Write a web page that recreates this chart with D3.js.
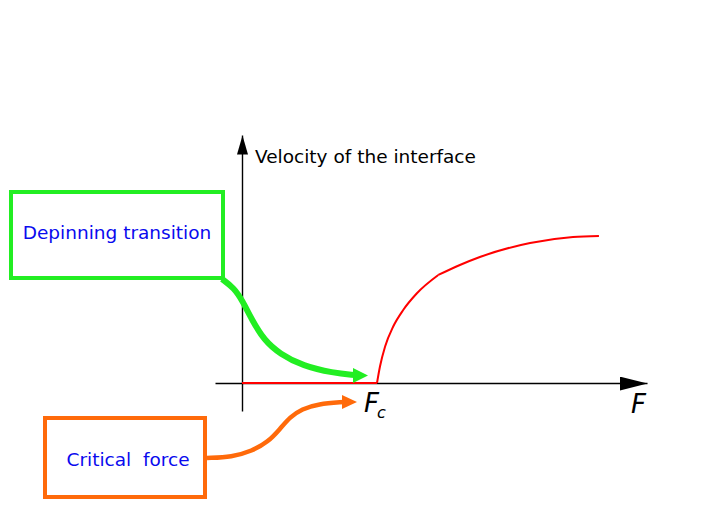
<!DOCTYPE html>
<html><head><meta charset="utf-8">
<script src="https://cdn.jsdelivr.net/npm/d3@7"></script>
<style>html,body{margin:0;padding:0;background:#fff}svg{display:block}</style>
</head><body>
<svg id="chart" width="708" height="532"></svg>
<script>
// ---- data ----
const pinnedF = [0, 5];            // F values where velocity is zero (below Fc)
const pinnedV = [0, 0];
const movingF = [5, 5.11, 5.30, 5.60, 5.97, 6.47, 7.27, 8.07, 8.81, 10.67, 12.26, 13.22];
const movingV = [0, 0.33, 0.73, 1.13, 1.46, 1.79, 2.16, 2.36, 2.52, 2.80, 2.92, 2.94];
const criticalForce = 5;
const xDomain = [-1, 15];
const yDomain = [-0.56, 4.96];
const yAxisLabel = "Velocity of the interface";
const xAxisLabel = "F";
const fcLabel = ["F", "c"];
const calloutLabels = ["Depinning transition", "Critical  force"];

const svg = d3.select("#chart");
const x = d3.scaleLinear().domain(xDomain).range([215, 647]);
const y = d3.scaleLinear().domain(yDomain).range([411, 135]);

// arrowhead markers
const defs = svg.append("defs");
defs.append("marker").attr("id","axArrowX").attr("viewBox","0 0 28 14")
  .attr("refX",28).attr("refY",7).attr("markerWidth",28).attr("markerHeight",14)
  .attr("markerUnits","userSpaceOnUse").attr("orient","auto")
  .append("path").attr("d","M0,0L28,7L0,14Z").attr("fill","#000");
defs.append("marker").attr("id","axArrowY").attr("viewBox","0 0 19 11")
  .attr("refX",19).attr("refY",5.5).attr("markerWidth",19).attr("markerHeight",11)
  .attr("markerUnits","userSpaceOnUse").attr("orient","auto")
  .append("path").attr("d","M0,0L19,5.5L0,11Z").attr("fill","#000");

// axes (no ticks)
const gx = svg.append("g").attr("transform",`translate(0,${y(0)})`)
  .call(d3.axisBottom(x).tickValues([]).tickSizeOuter(0));
gx.select(".domain").attr("stroke","#000").attr("stroke-width",1.6).attr("marker-end","url(#axArrowX)");
const gy = svg.append("g").attr("transform",`translate(${x(0)},0)`)
  .call(d3.axisLeft(y).tickValues([]).tickSizeOuter(0));
gy.select(".domain").attr("stroke","#000").attr("stroke-width",1.4).attr("marker-end","url(#axArrowY)");

// data curve
const line = d3.line().x(d=>x(d[0])).y(d=>y(d[1]));
svg.append("path").datum(pinnedF.map((f,i)=>[f,pinnedV[i]]))
  .attr("d", line).attr("fill","none").attr("stroke","#ff0000").attr("stroke-width",2);
const moving = movingF.map((f,i)=>[f,movingV[i]]);
const smooth = d3.line().x(d=>x(d[0])).y(d=>y(d[1])).curve(d3.curveMonotoneX);
svg.append("path").datum(moving.slice(0,7))
  .attr("d", smooth).attr("fill","none").attr("stroke","#ff0000").attr("stroke-width",2);
svg.append("path").datum(moving.slice(6))
  .attr("d", smooth).attr("fill","none").attr("stroke","#ff0000").attr("stroke-width",2);

// axis labels
svg.append("text").attr("x", x(0)+13).attr("y", 163)
  .attr("font-family","DejaVu Sans, sans-serif").attr("font-size",18.5).attr("fill","#000")
  .text(yAxisLabel);
svg.append("text").attr("x", 631).attr("y", 413)
  .attr("font-family","DejaVu Sans, sans-serif").attr("font-style","italic").attr("font-size",26).attr("fill","#000")
  .text(xAxisLabel);
const fc = svg.append("text").attr("x", x(criticalForce)-13).attr("y", 412)
  .attr("font-family","DejaVu Sans, sans-serif").attr("font-style","italic").attr("font-size",26).attr("fill","#000");
fc.append("tspan").text(fcLabel[0]);
fc.append("tspan").attr("dx",-2).attr("dy",6).attr("font-size",16).text(fcLabel[1]);

// callouts
const green = "#22ee22", orange = "#ff6a0a", blue = "#0a0aee";
svg.append("rect").attr("x",11).attr("y",192).attr("width",212).attr("height",86)
  .attr("fill","#fff").attr("stroke",green).attr("stroke-width",4);
svg.append("text").attr("x",117).attr("y",239).attr("text-anchor","middle")
  .attr("font-family","DejaVu Sans, sans-serif").attr("font-size",18.5).attr("fill",blue)
  .text(calloutLabels[0]);
const curveLine = d3.line().curve(d3.curveBasis);
svg.append("path")
  .attr("d", curveLine([[222,279],[234,288],[242,300],[252,320],[264,340],[280,354],[303,366],[333,373],[355,375]]))
  .attr("fill","none").attr("stroke",green).attr("stroke-width",6).attr("stroke-linecap","butt");
svg.append("path").attr("d","M353,368L368,375.5L353,383Z").attr("fill",green);

svg.append("rect").attr("x",45).attr("y",418).attr("width",160).attr("height",79)
  .attr("fill","#fff").attr("stroke",orange).attr("stroke-width",4);
svg.append("text").attr("x",128).attr("y",465.5).attr("text-anchor","middle")
  .attr("font-family","DejaVu Sans, sans-serif").attr("font-size",18.5).attr("fill",blue)
  .style("white-space","pre")
  .text(calloutLabels[1]);
svg.append("path")
  .attr("d", curveLine([[207,458],[232,457],[252,451],[268,442],[280,429],[290,417],[302,409],[318,404],[344,402]]))
  .attr("fill","none").attr("stroke",orange).attr("stroke-width",4.5);
svg.append("path").attr("d","M342,395L357,402L342,409Z").attr("fill",orange);
</script>
</body></html>
